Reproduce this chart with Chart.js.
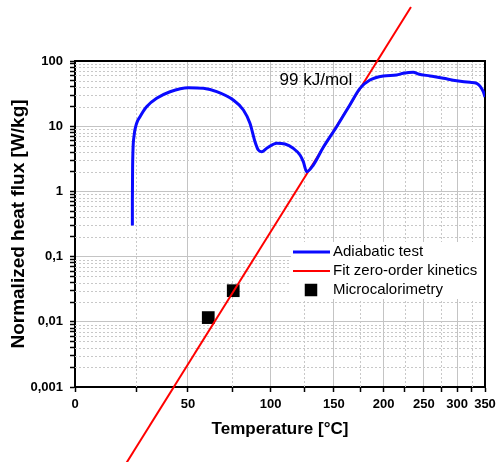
<!DOCTYPE html>
<html><head><meta charset="utf-8">
<script src="https://cdn.jsdelivr.net/npm/chart.js@4.4.1/dist/chart.umd.min.js"></script>
<style>html,body{margin:0;padding:0;background:#fff}</style>
</head><body>
<canvas id="c" width="496" height="462"></canvas>
<script>
// ---- data (temperature in °C, heat flux in W/kg) ----
const adiabaticTemp = [23.3, 23.3, 23.4, 24.0, 25.2, 26.7, 29.7, 34.4, 40.9, 50.2, 58.3, 65.8, 75.6, 81.9, 86.1, 89.4, 91.6, 93.8, 97.3, 104.3, 110.3, 116.5, 121.7, 124.3, 127.0, 132.4, 140.8, 152.6, 165.1, 174.9, 185.2, 199.7, 215.2, 223.3, 235.9, 242.5, 258.6, 278.2, 299.3, 322.1, 334.2, 346.7, 350];
const adiabaticFlux = [0.30, 0.74, 2.39, 6.9, 11.1, 14.0, 19.9, 26.8, 33.8, 39.0, 38.1, 33.8, 25.2, 17.7, 11.1, 5.78, 4.31, 4.06, 4.58, 5.47, 5.33, 4.58, 3.62, 2.86, 2.01, 2.54, 4.75, 9.83, 21.4, 38.1, 51.1, 58.9, 61.0, 64.7, 67.1, 63.2, 58.9, 54.3, 49.9, 47.1, 45.5, 33.8, 28];
const fitTemp = [20, 232.9];
const fitFlux = [6.25e-5, 674];
const microTemp = [61.0, 75.6];
const microFlux = [0.0116, 0.030];
const xTickTemps = [0, 25, 50, 75, 100, 125, 150, 175, 200, 225, 250, 275, 300, 325, 350];
const xLabelTemps = [0, 50, 100, 150, 200, 250, 300, 350];
const yDecades = [0.001, 0.01, 0.1, 1, 10, 100];
const yDecadeLabels = ['0,001', '0,01', '0,1', '1', '10', '100'];
const yMinorMultipliers = [2, 3, 4, 5, 6, 7, 8, 9];
const annotationText = '99 kJ/mol';
const annotationPos = {t: 134.6, v: 51};

// Arrhenius-type temperature axis: position by -1000/T[K]
const toX = t => -1000 / (t + 273.15);
const toT = x => Math.round(-1000 / x - 273.15);
const pts = (ts, vs) => ts.map((t, i) => ({x: toX(t), y: vs[i]}));

const yTicks = [];
yDecades.forEach((d, i) => {
  yTicks.push(d);
  if (i < yDecades.length - 1) yMinorMultipliers.forEach(m => yTicks.push(+(d * m).toPrecision(3)));
});
const isDecade = v => yDecades.some(d => Math.abs(d - v) / d < 1e-6);
const isMajorT = x => xLabelTemps.includes(toT(x));

const FONT = "'Liberation Sans', Arial, sans-serif";
Chart.defaults.font.family = FONT;
Chart.defaults.color = '#000';

const minorGrid = {
  id: 'minorGrid',
  beforeDatasetsDraw(chart) {
    const {ctx, chartArea: a, scales: {x, y}} = chart;
    ctx.save();
    ctx.strokeStyle = '#c8c8c8';
    ctx.lineWidth = 1;
    ctx.setLineDash([2, 2]);
    x.ticks.forEach(tk => {
      if (isMajorT(tk.value)) return;
      const px = Math.round(x.getPixelForValue(tk.value)) + 0.5;
      ctx.beginPath(); ctx.moveTo(px, a.top); ctx.lineTo(px, a.bottom); ctx.stroke();
    });
    y.ticks.forEach(tk => {
      if (isDecade(tk.value)) return;
      const py = Math.round(y.getPixelForValue(tk.value)) + 0.5;
      ctx.beginPath(); ctx.moveTo(a.left, py); ctx.lineTo(a.right, py); ctx.stroke();
    });
    ctx.setLineDash([]);
    ctx.strokeStyle = '#000';
    ctx.lineWidth = 2;
    ctx.beginPath();
    ctx.moveTo(a.left, a.top); ctx.lineTo(a.right, a.top); ctx.lineTo(a.right, a.bottom);
    ctx.stroke();
    ctx.restore();
  }
};

const boxLegend = {
  id: 'boxLegend',
  afterDatasetsDraw(chart) {
    const {ctx, scales: {x, y}} = chart;
    ctx.save();
    // annotation
    ctx.font = '17px ' + FONT;
    ctx.fillStyle = '#000';
    ctx.textAlign = 'center';
    ctx.textBaseline = 'middle';
    ctx.fillText(annotationText, x.getPixelForValue(toX(annotationPos.t)), y.getPixelForValue(annotationPos.v));
    // legend
    const a = chart.chartArea;
    const lx = 291, ly = 242, lw = a.right - 1 - lx, lh = 57;
    ctx.fillStyle = '#fff';
    ctx.fillRect(lx, ly, lw, lh);
    ctx.font = '15px ' + FONT;
    ctx.textAlign = 'left';
    chart.data.datasets.forEach((ds, i) => {
      const cy = 252 + i * 19;
      if (ds.showLine === false) {
        const s = 12.5;
        ctx.fillStyle = ds.backgroundColor;
        ctx.fillRect(311 - s / 2, cy - s / 2, s, s);
      } else {
        ctx.strokeStyle = ds.borderColor;
        ctx.lineWidth = ds.borderWidth;
        ctx.beginPath(); ctx.moveTo(293, cy); ctx.lineTo(330, cy); ctx.stroke();
      }
      ctx.fillStyle = '#000';
      ctx.fillText(ds.label, 333, cy);
    });
    ctx.restore();
  }
};

new Chart(document.getElementById('c'), {
  type: 'scatter',
  data: {
    datasets: [
      {label: 'Adiabatic test', data: pts(adiabaticTemp, adiabaticFlux), showLine: true,
       borderColor: '#0a0aff', backgroundColor: '#0a0aff', borderWidth: 3, pointRadius: 0,
       cubicInterpolationMode: 'monotone'},
      {label: 'Fit zero-order kinetics', data: pts(fitTemp, fitFlux), showLine: true,
       borderColor: '#ff0000', backgroundColor: '#ff0000', borderWidth: 2, pointRadius: 0, clip: false},
      {label: 'Microcalorimetry', data: pts(microTemp, microFlux), showLine: false,
       pointStyle: 'rect', pointRadius: 9, backgroundColor: '#000', borderColor: '#000', borderWidth: 0}
    ]
  },
  options: {
    responsive: false,
    animation: false,
    events: [],
    layout: {padding: {left: 0, right: 11, top: 61, bottom: 0}},
    plugins: {legend: {display: false}, tooltip: {enabled: false}},
    scales: {
      x: {
        type: 'linear', bounds: 'data',
        min: toX(0), max: toX(350),
        afterBuildTicks: s => { s.ticks = xTickTemps.map(t => ({value: toX(t)})); },
        afterFit: s => { s.height = 75; s.paddingLeft = 0; s.paddingRight = 0; },
        ticks: {autoSkip: false, maxRotation: 0, padding: 5,
          font: {size: 13, weight: 'bold'},
          callback: v => isMajorT(v) ? String(toT(v)) : ''},
        grid: {color: c => isMajorT(c.tick.value) ? '#c4c4c4' : 'rgba(0,0,0,0)',
          tickColor: '#000', tickLength: 5, tickWidth: 1.5, lineWidth: 1},
        border: {color: '#000', width: 2},
        title: {display: true, text: 'Temperature [°C]', font: {size: 17, weight: 'bold'},
          padding: {top: 0, bottom: 22}}
      },
      y: {
        type: 'logarithmic', min: 0.001, max: 100,
        afterBuildTicks: s => { s.ticks = yTicks.map(v => ({value: v})); },
        afterFit: s => { s.width = 75; s.paddingTop = 0; s.paddingBottom = 0; },
        ticks: {autoSkip: false, padding: 7,
          font: {size: 13, weight: 'bold'},
          callback: v => { const i = yDecades.findIndex(d => Math.abs(d - v) / d < 1e-6); return i >= 0 ? yDecadeLabels[i] : ''; }},
        grid: {color: c => isDecade(c.tick.value) ? '#c4c4c4' : 'rgba(0,0,0,0)',
          tickColor: '#000', tickLength: 5, tickWidth: 1.5, lineWidth: 1},
        border: {color: '#000', width: 2},
        title: {display: true, text: 'Normalized heat flux [W/kg]', font: {size: 19, weight: 'bold'},
          padding: {top: 7, bottom: 0}}
      }
    }
  },
  plugins: [minorGrid, boxLegend]
});
</script>
</body></html>
